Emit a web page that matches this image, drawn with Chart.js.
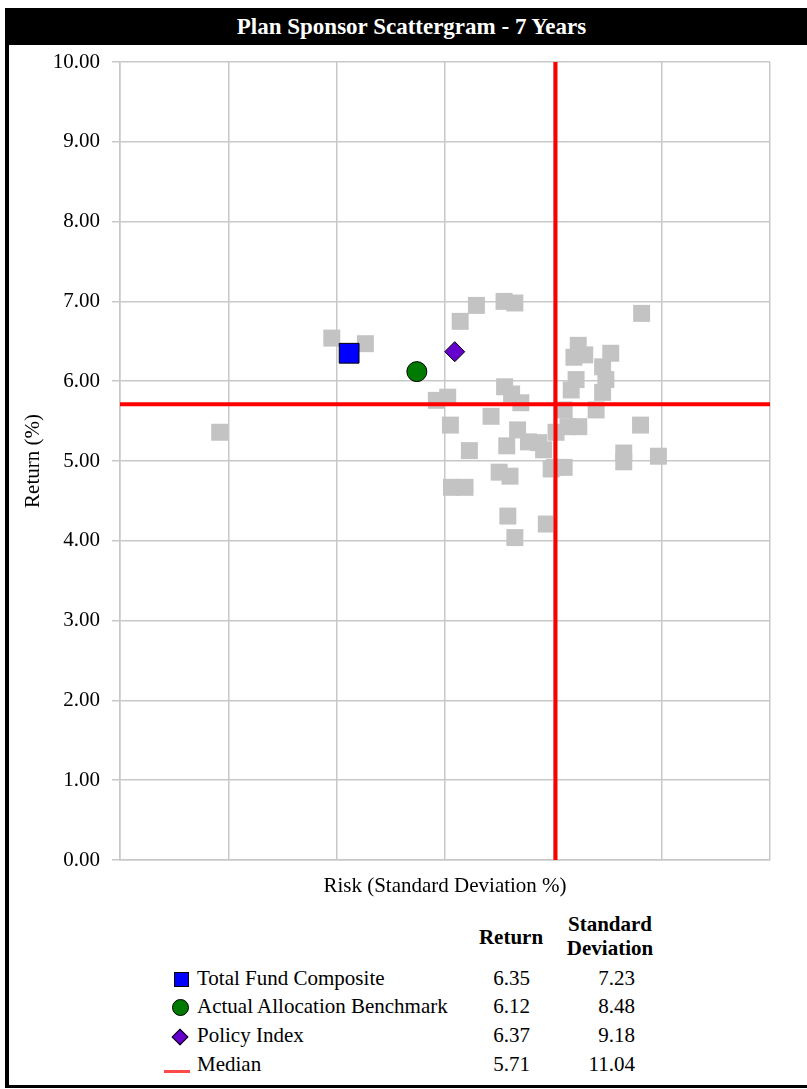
<!DOCTYPE html>
<html lang="en">
<head>
<meta charset="UTF-8">
<title>Plan Sponsor Scattergram - 7 Years</title>
<script src="https://cdn.jsdelivr.net/npm/chart.js"></script>
<style>
  html, body { margin: 0; padding: 0; overflow: hidden; background: #fff; width: 807px; height: 1089px; }
  body { font-family: "Liberation Serif", "Times New Roman", serif; color: #000; position: relative; }
  .frame {
    position: absolute; left: 5px; top: 8px; width: 813px; height: 1080px;
    box-sizing: border-box; border-left: 4px solid #000; border-bottom: 3px solid #000;
  }
  .title-bar {
    position: absolute; left: -4px; top: 0; right: 0; height: 37px;
    background: #000; color: #fff; font-weight: bold; font-size: 23px;
    text-align: center; line-height: 38px;
  }
  #scatter { position: absolute; left: 0; top: 37px; }
  .lg { position: absolute; font-size: 21px; line-height: 21px; white-space: nowrap; }
  .mk { position: absolute; box-sizing: border-box; }
</style>
</head>
<body>
  <div class="frame">
    <div class="title-bar">Plan Sponsor Scattergram - 7 Years</div>
    <canvas id="scatter" width="798" height="860"></canvas>
  </div>

<script>
  // universe of plan sponsors (risk = std dev %, return %)
  const universeStdDev = [4.84, 6.91, 7.53, 9.28, 9.58, 10.09, 10.29, 12.63,
    8.84, 9.05, 10.10, 10.23, 10.40, 9.85, 9.10, 10.34, 10.14, 10.54, 10.82, 11.05,
    9.45, 10.00, 10.20, 10.96, 9.12, 9.37, 10.16, 10.87, 10.29,
    11.46, 11.38, 11.58, 12.06, 11.91, 11.97, 11.91, 11.42, 11.33, 11.79, 12.61, 11.20, 11.47, 11.27,
    12.30, 12.30, 12.94, 10.73, 11.02, 11.20];
  const universeReturn = [5.36, 6.54, 6.47, 6.75, 6.95, 7.00, 6.98, 6.85,
    5.76, 5.80, 5.93, 5.84, 5.73, 5.56, 5.45, 5.39, 5.19, 5.24, 5.14, 5.36,
    5.13, 4.86, 4.81, 4.90, 4.67, 4.67, 4.31, 4.21, 4.04,
    6.45, 6.30, 6.33, 6.35, 6.18, 6.02, 5.86, 6.02, 5.89, 5.64, 5.45, 5.64, 5.43, 5.43,
    5.10, 4.99, 5.06, 5.23, 4.92, 4.92];

  const seriesNames = ['Total Fund Composite', 'Actual Allocation Benchmark', 'Policy Index'];
  const seriesReturn = [6.35, 6.12, 6.37];
  const seriesStdDev = [7.23, 8.48, 9.18];
  const medianReturn = 5.71;
  const medianStdDev = 11.04;

  const xMin = 3, xMax = 15, xStep = 2;
  const yMin = 0, yMax = 10, yStep = 1;

  const serif = '"Liberation Serif", "Times New Roman", serif';
  const gridColor = '#c8c8c8';

  const universe = universeStdDev.map((x, i) => ({ x: x, y: universeReturn[i] }));

  new Chart(document.getElementById('scatter'), {
    type: 'scatter',
    data: {
      datasets: [
        {
          label: seriesNames[0],
          data: [{ x: seriesStdDev[0], y: seriesReturn[0] }],
          pointStyle: 'rect', pointRadius: 14,
          backgroundColor: '#0000ff', borderColor: '#000', borderWidth: 1, order: 1
        },
        {
          label: seriesNames[1],
          data: [{ x: seriesStdDev[1], y: seriesReturn[1] }],
          pointStyle: 'circle', pointRadius: 10,
          backgroundColor: '#007a00', borderColor: '#000', borderWidth: 1, order: 2
        },
        {
          label: seriesNames[2],
          data: [{ x: seriesStdDev[2], y: seriesReturn[2] }],
          pointStyle: 'rectRot', pointRadius: 10,
          backgroundColor: '#6600cc', borderColor: '#000', borderWidth: 1, order: 3
        },
        {
          label: 'Median',
          data: [{ x: xMin, y: medianReturn }, { x: xMax, y: medianReturn }],
          showLine: true, pointRadius: 0, borderColor: '#ff0000', borderWidth: 4, order: 4
        },
        {
          label: 'Median',
          data: [{ x: medianStdDev, y: yMin }, { x: medianStdDev, y: yMax }],
          showLine: true, pointRadius: 0, borderColor: '#ff0000', borderWidth: 4, order: 4
        },
        {
          label: 'Universe',
          data: universe,
          pointStyle: 'rect', pointRadius: 12,
          backgroundColor: '#c3c3c3', borderWidth: 0, order: 5
        }
      ]
    },
    options: {
      responsive: false,
      animation: false,
      events: [],
      layout: { padding: { top: 17, right: 37, left: 0, bottom: 0 } },
      plugins: { legend: { display: false }, tooltip: { enabled: false } },
      scales: {
        x: {
          type: 'linear', min: xMin, max: xMax,
          ticks: { display: false, stepSize: xStep },
          grid: { color: gridColor, lineWidth: 1.5, drawTicks: false },
          border: { color: gridColor, width: 1.5 },
          title: {
            display: true, text: 'Risk (Standard Deviation %)', color: '#000',
            font: { family: serif, size: 21 }, padding: { top: 0, bottom: 6 }
          },
          afterFit: s => { s.height = 45; s.paddingLeft = 0; s.paddingRight = 0; }
        },
        y: {
          min: yMin, max: yMax,
          ticks: {
            stepSize: yStep, color: '#000', padding: 12,
            font: { family: serif, size: 21 },
            callback: v => v.toFixed(2)
          },
          grid: { color: gridColor, lineWidth: 1.5, tickLength: 8 },
          border: { color: gridColor, width: 1.5 },
          title: {
            display: true, text: 'Return (%)', color: '#000',
            font: { family: serif, size: 21 }, padding: { top: 12, bottom: 0 }
          },
          afterFit: s => { s.width = 111; s.paddingTop = 0; s.paddingBottom = 0; }
        }
      }
    }
  });

  // legend table below the chart
  function addText(txt, x, baseline, align, bold) {
    const d = document.createElement('div');
    d.className = 'lg';
    d.textContent = txt;
    d.style.top = (baseline - 17.6) + 'px';
    if (align === 'left') {
      d.style.left = x + 'px';
    } else {
      d.style.width = '200px';
      d.style.textAlign = align;
      d.style.left = (align === 'right' ? x - 200 : x - 100) + 'px';
    }
    if (bold) d.style.fontWeight = 'bold';
    document.body.appendChild(d);
  }
  function addMarker(css) {
    const d = document.createElement('div');
    d.className = 'mk';
    Object.assign(d.style, css);
    document.body.appendChild(d);
  }

  addText('Return', 511, 945, 'center', true);
  addText('Standard', 610, 932, 'center', true);
  addText('Deviation', 610, 956, 'center', true);

  const rowBase = [986, 1014, 1043, 1072];
  const names = seriesNames.concat(['Median']);
  const rets = seriesReturn.concat([medianReturn]);
  const sds = seriesStdDev.concat([medianStdDev]);
  names.forEach((n, i) => {
    addText(n, 197, rowBase[i], 'left', false);
    addText(rets[i].toFixed(2), 530, rowBase[i], 'right', false);
    addText(sds[i].toFixed(2), 635, rowBase[i], 'right', false);
  });

  addMarker({ left: '174px', top: '972px', width: '15px', height: '15px', background: '#0000ff', border: '1px solid #000' });
  addMarker({ left: '172px', top: '999px', width: '17px', height: '17px', background: '#007a00', border: '1px solid #000', borderRadius: '50%' });
  addMarker({ left: '174px', top: '1031px', width: '12px', height: '12px', background: '#6600cc', border: '1px solid #000', transform: 'rotate(45deg)' });
  addMarker({ left: '164px', top: '1070px', width: '26px', height: '3px', background: '#ff4a4a' });
</script>
</body>
</html>
